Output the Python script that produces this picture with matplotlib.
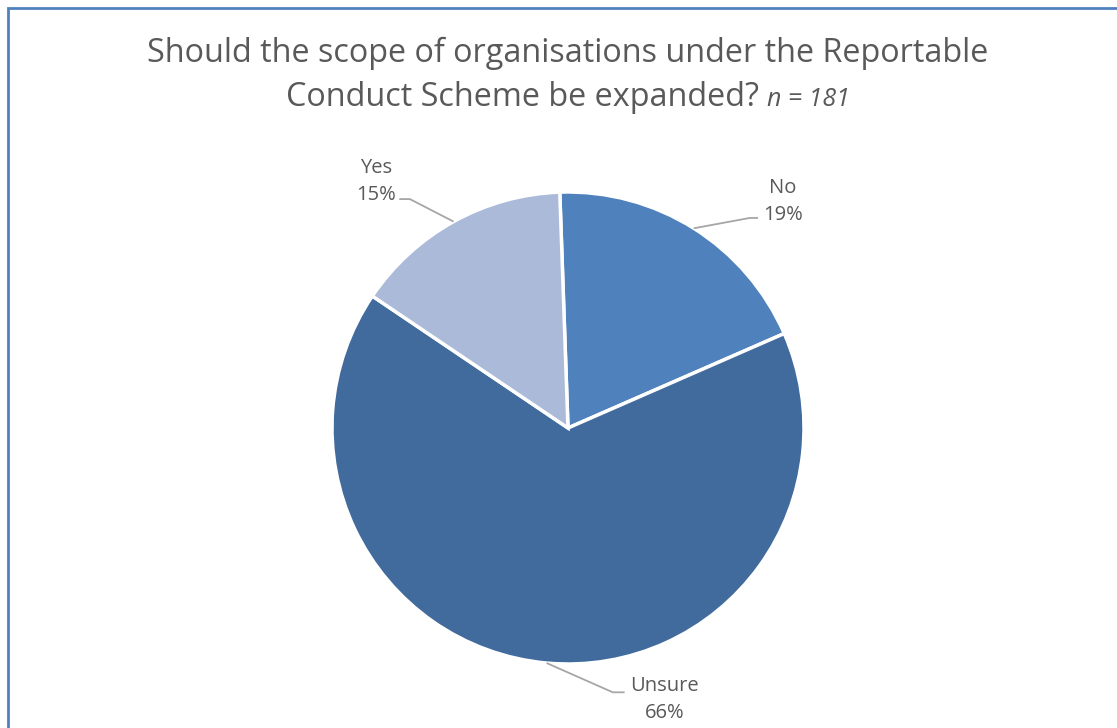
import matplotlib.pyplot as plt
from matplotlib.patches import Rectangle
import numpy as np

plt.rcParams['font.family'] = ['Open Sans', 'DejaVu Sans']

labels = ['No', 'Unsure', 'Yes']
shares = [19, 66, 15]
colors = ['#4f81bd', '#416b9c', '#aabad8']
title_main = 'Should the scope of organisations under the Reportable\nConduct Scheme be expanded?'
title_n = 'n = 181'

W, H, DPI = 1117, 728, 100
cx, cy, R = 568, 428, 236          # pie centre / radius in pixels
text_col = '#595959'
line_col = '#a6a6a6'

fig = plt.figure(figsize=(W / DPI, H / DPI), dpi=DPI)
fig.patch.set_facecolor('white')
ax = fig.add_axes([0, 0, 1, 1])

wedges, _ = ax.pie(shares, colors=colors, startangle=92, counterclock=False,
                   radius=1.0, center=(0, 0),
                   wedgeprops=dict(edgecolor='white', linewidth=2.5))
# pie() resets the limits, so fix them afterwards
ax.set_xlim(-cx / R, (W - cx) / R)
ax.set_ylim(-(H - cy) / R, cy / R)
ax.set_aspect('equal')
ax.axis('off')

# leader line elbows (in units of radius)
elbow = {'No': (0.77, 0.89), 'Unsure': (0.19, -1.12), 'Yes': (-0.67, 0.97)}
stub = {'No': 0.035, 'Unsure': 0.05, 'Yes': -0.045}
lab_fs = 14.5
ls = 1.45
for w, lab, val in zip(wedges, labels, shares):
    mid = np.deg2rad((w.theta1 + w.theta2) / 2)
    x0, y0 = np.cos(mid), np.sin(mid)
    ex, ey = elbow[lab]
    sx = ex + stub[lab]
    ax.plot([x0, ex, sx], [y0, ey, ey], color=line_col, lw=1.3,
            solid_capstyle='butt', zorder=1)
    txt = f'{lab}\n{val}%'
    if lab == 'No':
        ax.text(sx + 0.02, ey - 0.03, txt, ha='left', va='bottom',
                fontsize=lab_fs, color=text_col, linespacing=ls,
                multialignment='center')
    elif lab == 'Yes':
        ax.text(sx - 0.015, ey - 0.025, txt, ha='right', va='bottom',
                fontsize=lab_fs, color=text_col, linespacing=ls,
                multialignment='center')
    else:
        ax.text(sx + 0.025, ey + 0.07, txt, ha='left', va='top',
                fontsize=lab_fs, color=text_col, linespacing=ls,
                multialignment='center')

# title: two lines, the sample size in italics after the second line
tfs = 23.3
t1 = fig.text(cx / W, 1 - 53 / H, title_main.split('\n')[0], ha='center',
              va='center', fontsize=tfs, color=text_col)
t2 = fig.text(0, 1 - 98 / H, title_main.split('\n')[1] + ' ', ha='left',
              va='center', fontsize=tfs, color=text_col)
t3 = fig.text(0, 1 - 99 / H, title_n, ha='left', va='center',
              fontsize=18, style='italic', color=text_col)
fig.canvas.draw()
r = fig.canvas.get_renderer()
w2 = t2.get_window_extent(r).width
w3 = t3.get_window_extent(r).width
left = cx - (w2 + w3) / 2
t2.set_x(left / W)
t3.set_x((left + w2) / W)

# chart frame
fig.add_artist(Rectangle((7.5 / W, -0.1), 2, 1.1 - 8.5 / H, transform=fig.transFigure,
                         fill=False, edgecolor='#4f81bd', linewidth=2))

fig.savefig('out.png', dpi=DPI, facecolor='white')
